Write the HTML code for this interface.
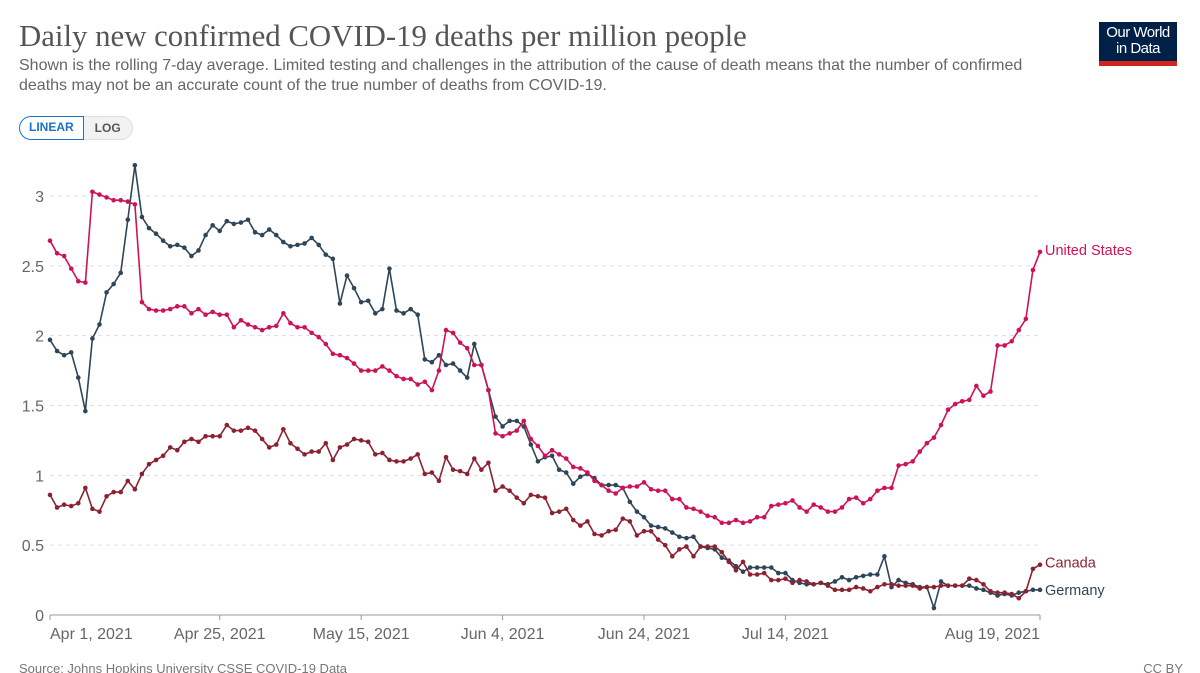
<!DOCTYPE html>
<html><head><meta charset="utf-8">
<style>
body{margin:0;background:#fff;width:1200px;height:673px;overflow:hidden;font-family:"Liberation Sans",sans-serif;}
#title{position:absolute;left:19px;top:19px;font-family:"Liberation Serif",serif;font-size:30.8px;color:#555;white-space:nowrap;}
#sub{position:absolute;left:19px;top:56px;font-size:16px;line-height:19.5px;color:#666;width:1030px;}
#logo{position:absolute;left:1099px;top:22px;width:78px;height:44px;background:#002147;color:#fff;font-size:15px;line-height:16px;text-align:center;box-sizing:border-box;padding-top:3px;border-bottom:5px solid #ce261e;letter-spacing:-0.5px}
#toggle{position:absolute;left:19px;top:116px;height:24px;display:flex;font-size:12px;font-weight:bold;}
#lin{border:1.5px solid #1b72c7;color:#1b72c7;border-radius:12px 0 0 12px;padding:0 9px;line-height:21px;background:#fff}
#log{border:1px solid #ddd;border-left:none;color:#555;border-radius:0 12px 12px 0;padding:0 11px;line-height:22px;background:#f2f2f2}
svg{position:absolute;left:0;top:0}
</style></head><body>
<div id="title">Daily new confirmed COVID-19 deaths per million people</div>
<div id="sub">Shown is the rolling 7-day average. Limited testing and challenges in the attribution of the cause of death means that the number of confirmed deaths may not be an accurate count of the true number of deaths from COVID-19.</div>
<div id="logo">Our World<br>in Data</div>
<div id="toggle"><div id="lin">LINEAR</div><div id="log">LOG</div></div>
<svg id="chart" width="1200" height="673"></svg>
<script>
const yTicks=[0,0.5,1,1.5,2,2.5,3];
const yTickLabels=["0","0.5","1","1.5","2","2.5","3"];
const xTickDays=[0,24,44,64,84,104,140];
const xTickLabels=["Apr 1, 2021","Apr 25, 2021","May 15, 2021","Jun 4, 2021","Jun 24, 2021","Jul 14, 2021","Aug 19, 2021"];
const us=[2.68,2.59,2.57,2.48,2.39,2.38,3.03,3.01,2.99,2.97,2.97,2.96,2.94,2.24,2.19,2.18,2.18,2.19,2.21,2.21,2.16,2.19,2.15,2.17,2.15,2.15,2.06,2.11,2.08,2.06,2.04,2.06,2.07,2.16,2.09,2.06,2.06,2.02,1.99,1.94,1.87,1.86,1.84,1.80,1.75,1.75,1.75,1.78,1.75,1.71,1.69,1.69,1.65,1.67,1.61,1.75,2.04,2.02,1.95,1.91,1.79,1.79,1.61,1.30,1.28,1.30,1.32,1.39,1.26,1.21,1.14,1.18,1.15,1.12,1.06,1.05,1.02,0.96,0.93,0.89,0.87,0.91,0.92,0.92,0.95,0.90,0.89,0.89,0.83,0.83,0.77,0.76,0.74,0.71,0.70,0.66,0.66,0.68,0.66,0.67,0.70,0.70,0.78,0.79,0.80,0.82,0.77,0.74,0.79,0.77,0.74,0.74,0.77,0.83,0.84,0.80,0.83,0.89,0.91,0.91,1.07,1.08,1.10,1.17,1.23,1.27,1.36,1.47,1.51,1.53,1.54,1.64,1.57,1.60,1.93,1.93,1.96,2.04,2.12,2.47,2.60];
const germany=[1.97,1.89,1.86,1.88,1.70,1.46,1.98,2.08,2.31,2.37,2.45,2.83,3.22,2.85,2.77,2.73,2.68,2.64,2.65,2.63,2.57,2.61,2.72,2.79,2.75,2.82,2.80,2.81,2.83,2.74,2.72,2.76,2.72,2.67,2.64,2.65,2.66,2.70,2.65,2.58,2.55,2.23,2.43,2.34,2.24,2.25,2.16,2.19,2.48,2.18,2.16,2.19,2.15,1.83,1.81,1.86,1.79,1.80,1.75,1.70,1.94,1.79,1.61,1.42,1.35,1.39,1.39,1.35,1.22,1.10,1.13,1.14,1.04,1.02,0.94,0.99,1.01,0.98,0.93,0.93,0.93,0.91,0.81,0.74,0.70,0.64,0.63,0.62,0.59,0.56,0.55,0.56,0.49,0.48,0.47,0.41,0.39,0.35,0.31,0.34,0.34,0.34,0.34,0.30,0.30,0.25,0.23,0.22,0.22,0.23,0.22,0.24,0.27,0.25,0.27,0.28,0.29,0.29,0.42,0.20,0.25,0.23,0.22,0.20,0.20,0.05,0.24,0.21,0.21,0.21,0.21,0.19,0.18,0.16,0.14,0.15,0.14,0.16,0.17,0.18,0.18];
const canada=[0.86,0.77,0.79,0.78,0.80,0.91,0.76,0.74,0.85,0.88,0.88,0.96,0.90,1.01,1.08,1.11,1.14,1.20,1.18,1.24,1.26,1.24,1.28,1.28,1.28,1.36,1.32,1.32,1.34,1.32,1.26,1.20,1.22,1.33,1.23,1.19,1.15,1.17,1.17,1.23,1.11,1.20,1.22,1.26,1.25,1.24,1.15,1.16,1.11,1.10,1.10,1.12,1.15,1.01,1.02,0.96,1.13,1.04,1.03,1.01,1.12,1.04,1.09,0.89,0.92,0.89,0.84,0.80,0.86,0.85,0.84,0.73,0.74,0.76,0.68,0.64,0.67,0.58,0.57,0.60,0.61,0.69,0.67,0.57,0.60,0.60,0.54,0.50,0.42,0.47,0.49,0.42,0.49,0.49,0.49,0.45,0.38,0.32,0.38,0.29,0.29,0.30,0.25,0.25,0.26,0.23,0.25,0.24,0.22,0.23,0.21,0.18,0.18,0.18,0.20,0.19,0.17,0.20,0.22,0.22,0.21,0.21,0.21,0.19,0.20,0.20,0.21,0.21,0.21,0.21,0.26,0.25,0.22,0.17,0.16,0.16,0.15,0.12,0.17,0.33,0.36];
const seriesNames=["Germany","Canada","United States"];
const seriesColors=["#2f4558","#8c2231","#ce1355"];
const svg=document.getElementById('chart');
const NS='http://www.w3.org/2000/svg';
const X0=50,X1=1040,DAYS=140,Y0=615,Y3=196;
function xs(d){return X0+(X1-X0)*d/DAYS;}
function ys(v){return Y0-(Y0-Y3)*v/3;}
function mk(tag,attrs){const e=document.createElementNS(NS,tag);for(const k in attrs)e.setAttribute(k,attrs[k]);svg.appendChild(e);return e;}
yTicks.forEach((t,i)=>{
  if(t>0){const g=mk('line',{x1:X0,x2:X1,y1:ys(t),y2:ys(t),stroke:'#ddd','stroke-dasharray':'4,4'});
  
  }
  const l=mk('text',{x:44,y:ys(t)+6,'text-anchor':'end','font-size':'16','fill':'#666','font-family':'Liberation Sans, sans-serif'});
  
  
  l.textContent=yTickLabels[i];
});
const ax=mk('line',{x1:X0,x2:X1,y1:Y0,y2:Y0,stroke:'#999'});


xTickDays.forEach((d,i)=>{
  const tk=mk('line',{x1:xs(d),x2:xs(d),y1:Y0,y2:Y0+5,stroke:'#999'});
  
  
  const anchor=i==0?'start':(i==xTickDays.length-1?'end':'middle');
  const l=mk('text',{x:xs(d),y:639,'text-anchor':anchor,'font-size':'16','fill':'#666','font-family':'Liberation Sans, sans-serif'});
  
  
  l.textContent=xTickLabels[i];
});
[germany,canada,us].forEach((arr,si)=>{
  const pts=arr.map((v,d)=>xs(d).toFixed(1)+','+ys(v).toFixed(1)).join(' ');
  const pl=mk('polyline',{points:pts,fill:'none',stroke:seriesColors[si],'stroke-width':'1.6'});
  
  
  arr.forEach((v,d)=>{
    const c=mk('circle',{cx:xs(d),cy:ys(v),r:2.3,fill:seriesColors[si]});
    
    
  });
  const last=arr[arr.length-1];
  let ly=ys(last)+5; if(si==1) ly-=2; if(si==2) ly-=2;
  const lab=mk('text',{x:1045,y:ly,'font-size':'14.5','fill':seriesColors[si],'font-family':'Liberation Sans, sans-serif'});
  
  
  lab.textContent=seriesNames[si];
});
const src=mk('text',{x:19,y:673,'font-size':'13','fill':'#777','font-family':'Liberation Sans, sans-serif'});


src.textContent='Source: Johns Hopkins University CSSE COVID-19 Data';
const cc=mk('text',{x:1183,y:673,'font-size':'13','fill':'#777','text-anchor':'end','font-family':'Liberation Sans, sans-serif'});


cc.textContent='CC BY';
</script>
</body></html>
